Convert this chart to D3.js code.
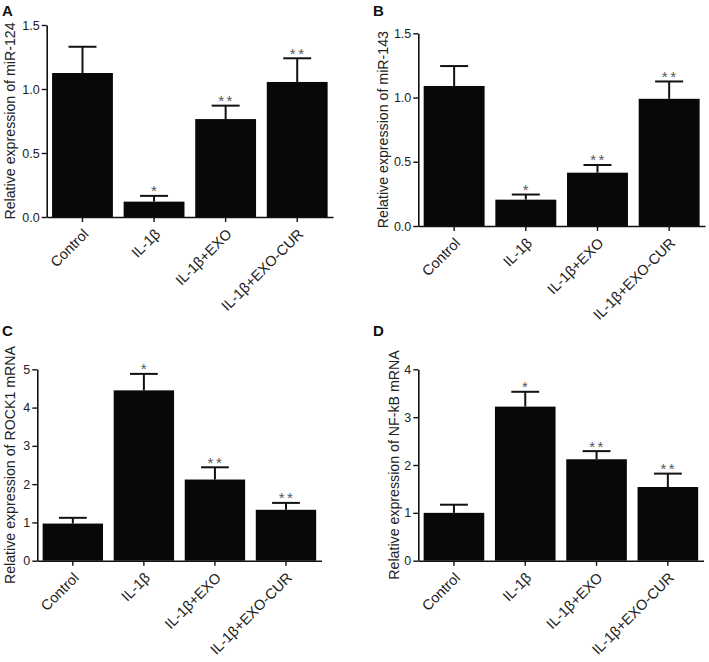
<!DOCTYPE html>
<html>
<head>
<meta charset="utf-8">
<script src="https://cdn.jsdelivr.net/npm/d3@7"></script>
<style>
  html, body { margin: 0; padding: 0; background: #fff; }
  svg { display: block; font-family: Arial, "Liberation Sans", Helvetica, sans-serif; }
</style>
</head>
<body>
<svg id="chart" width="709" height="662"></svg>
<script>
// ---- data ----
const categories = ["Control", "IL-1β", "IL-1β+EXO", "IL-1β+EXO-CUR"];

const miR124Mean = [1.125, 0.12, 0.765, 1.055];
const miR124Err  = [0.205, 0.045, 0.105, 0.185];
const miR124Sig  = ["", "*", "**", "**"];

const miR143Mean = [1.09, 0.205, 0.415, 0.99];
const miR143Err  = [0.155, 0.04, 0.06, 0.135];
const miR143Sig  = ["", "*", "**", "**"];

const rock1Mean = [0.97, 4.45, 2.12, 1.33];
const rock1Err  = [0.15, 0.43, 0.32, 0.18];
const rock1Sig  = ["", "*", "**", "**"];

const nfkbMean = [1.0, 3.22, 2.12, 1.54];
const nfkbErr  = [0.17, 0.31, 0.17, 0.28];
const nfkbSig  = ["", "*", "**", "**"];

const ticksA = [0, 0.5, 1.0, 1.5];
const ticksB = [0, 0.5, 1.0, 1.5];
const ticksC = [0, 1, 2, 3, 4, 5];
const ticksD = [0, 1, 2, 3, 4];

const panels = [
  { letter: "A", title: "Relative expression of miR-124", mean: miR124Mean, err: miR124Err, sig: miR124Sig,
    ticks: ticksA, fmt: d3.format(".1f"), max: 1.5,
    x0: 46.7, x1: 333, y0: 217, y1: 25, titleX: 15, letterX: 2, letterY: 16 },
  { letter: "B", title: "Relative expression of miR-143", mean: miR143Mean, err: miR143Err, sig: miR143Sig,
    ticks: ticksB, fmt: d3.format(".1f"), max: 1.5,
    x0: 418.3, x1: 705, y0: 226, y1: 33.3, titleX: 388, letterX: 373, letterY: 16 },
  { letter: "C", title: "Relative expression of ROCK1 mRNA", mean: rock1Mean, err: rock1Err, sig: rock1Sig,
    ticks: ticksC, fmt: d3.format("d"), max: 5,
    x0: 37.3, x1: 321.5, y0: 560.7, y1: 369.3, titleX: 15, letterX: 2, letterY: 336 },
  { letter: "D", title: "Relative expression of NF-kB mRNA", mean: nfkbMean, err: nfkbErr, sig: nfkbSig,
    ticks: ticksD, fmt: d3.format("d"), max: 4,
    x0: 418.3, x1: 703.5, y0: 560.7, y1: 369.3, titleX: 399, letterX: 373, letterY: 336 }
];

const svg = d3.select("#chart");

panels.forEach(p => {
  const g = svg.append("g");
  const x = d3.scaleBand().domain(categories).range([p.x0, p.x1]).paddingInner(0.15).paddingOuter(0.075);
  const y = d3.scaleLinear().domain([0, p.max]).range([p.y0, p.y1]);

  // error bars (upper only)
  const eb = g.append("g").attr("stroke", "#111").attr("stroke-width", 2);
  categories.forEach((c, i) => {
    const cx = x(c) + x.bandwidth() / 2;
    const top = y(p.mean[i] + p.err[i]);
    const capW = x.bandwidth() * 0.23;
    eb.append("line").attr("x1", cx).attr("x2", cx).attr("y1", y(p.mean[i])).attr("y2", top);
    eb.append("line").attr("x1", cx - capW).attr("x2", cx + capW).attr("y1", top).attr("y2", top);
    if (p.sig[i]) {
      g.append("text").attr("x", cx + 1).attr("y", top + 0.5)
        .attr("text-anchor", "middle").attr("font-size", 15).attr("fill", "#555")
        .attr("letter-spacing", 2.5)
        .text(p.sig[i]);
    }
  });

  // bars
  g.append("g").selectAll("rect").data(categories).join("rect")
    .attr("x", c => x(c))
    .attr("width", x.bandwidth())
    .attr("y", (c, i) => y(p.mean[i]))
    .attr("height", (c, i) => y(0) - y(p.mean[i]))
    .attr("fill", "#080808");

  // y axis
  const ya = g.append("g").attr("transform", `translate(${p.x0},0)`)
    .call(d3.axisLeft(y).tickValues(p.ticks).tickFormat(p.fmt).tickSize(5).tickPadding(2).tickSizeOuter(0));
  ya.select(".domain").attr("stroke", "#111").attr("stroke-width", 1.6);
  ya.selectAll(".tick line").attr("stroke", "#111").attr("stroke-width", 1.4);
  ya.selectAll(".tick text").attr("font-size", 12.5).attr("fill", "#222").attr("font-family", "Arial, 'Liberation Sans', sans-serif");

  // x axis
  const xa = g.append("g").attr("transform", `translate(0,${p.y0})`)
    .call(d3.axisBottom(x).tickSize(5).tickSizeOuter(0));
  xa.select(".domain").attr("stroke", "#111").attr("stroke-width", 1.6);
  xa.selectAll(".tick line").attr("stroke", "#111").attr("stroke-width", 1.4);
  xa.selectAll(".tick text")
    .attr("font-size", 14.5).attr("fill", "#222").attr("font-family", "Arial, 'Liberation Sans', sans-serif")
    .attr("text-anchor", "end")
    .attr("y", 0).attr("dy", 0)
    .attr("transform", "translate(7,18) rotate(-45)");

  // y title
  g.append("text")
    .attr("transform", `translate(${p.titleX},${(p.y0 + p.y1) / 2}) rotate(-90)`)
    .attr("text-anchor", "middle").attr("font-size", 14.2).attr("fill", "#222")
    .text(p.title);

  // panel letter
  g.append("text").attr("x", p.letterX).attr("y", p.letterY)
    .attr("font-size", 15).attr("font-weight", "bold").attr("fill", "#111")
    .text(p.letter);
});
</script>
</body>
</html>
